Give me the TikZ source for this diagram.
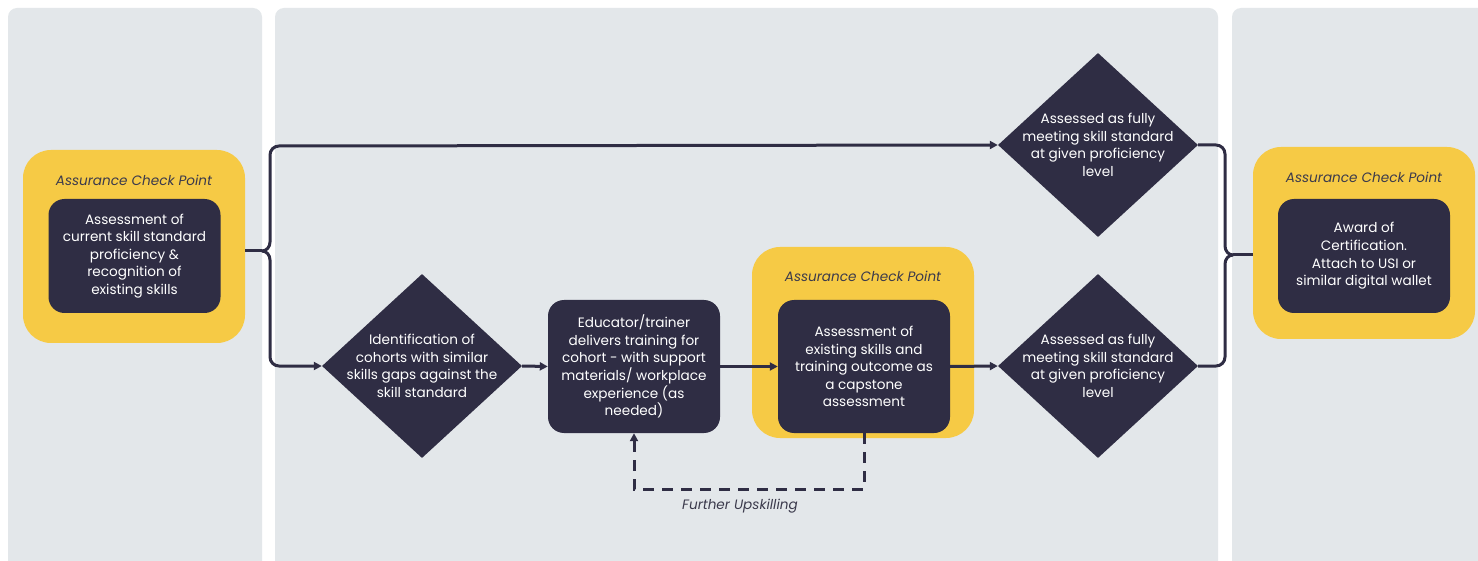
\documentclass[tikz,border=0pt]{standalone}
\usepackage{fontspec}
\setmainfont{Poppins}
\usetikzlibrary{shapes.geometric,arrows.meta}
\definecolor{panel}{HTML}{E3E7EA}
\definecolor{ylw}{HTML}{F6CA45}
\definecolor{dk}{HTML}{2F2D44}
\definecolor{ttlc}{HTML}{3B3A4C}
\begin{document}
\begin{tikzpicture}[x=1pt,y=-1pt,
 panelbox/.style={fill=panel, rounded corners=9pt},
 ybox/.style={fill=ylw, rounded corners=28pt, minimum width=222pt, inner sep=0pt},
 dbox/.style={fill=dk, rounded corners=16pt, minimum width=172pt, inner sep=0pt, text=white, align=center, font=\fontsize{13.6}{17.6}\selectfont},
 dmd/.style={diamond, fill=dk, minimum width=200pt, minimum height=184pt, inner sep=0pt},
 dtxt/.style={text=white, align=center, font=\fontsize{13.6}{17.6}\selectfont},
 ttl/.style={font=\itshape\fontsize{13.6}{15}\selectfont, text=ttlc},
 conn/.style={draw=dk, line width=3pt},
 arr/.style={conn, -{Triangle[length=8pt,width=8pt]}},
 dsh/.style={conn, dash pattern=on 11pt off 8pt, -{Triangle[length=8pt,width=8pt]}},
]
\useasboundingbox (0,0) rectangle (1478,561);
\clip (0,0) rectangle (1478,561);
\fill[white] (0,0) rectangle (1478,561);
% panels
\fill[panelbox] (8,8) rectangle (262,600);
\fill[panelbox] (275,8) rectangle (1218,600);
\fill[panelbox] (1232,8) rectangle (1520,600);

% left check point
\node[ybox, minimum height=193pt] (yl) at (134,246.5) {};
\node[ttl] (tl) at (134,180) {Assurance Check Point};
\node[dbox, minimum height=114pt] (al) at (134.5,256) {Assessment of\\current skill standard\\proficiency \&\\recognition of\\existing skills};

% middle
\node[dmd, label={[dtxt]center:{Identification of\\cohorts with similar\\skills gaps against the\\skill standard}}] (d1) at (422,366) {};
\node[dbox, minimum height=133pt] (tr) at (634,366.5) {Educator/trainer\\delivers training for\\cohort - with support\\materials/ workplace\\experience (as\\needed)};
\node[ybox, minimum height=191pt] (ym) at (863,342.5) {};
\node[ttl] (tm) at (863,276) {Assurance Check Point};
\node[dbox, minimum height=133pt] (cap) at (864,366.5) {Assessment of\\existing skills and\\training outcome as\\a capstone\\assessment};
\node[dmd, label={[dtxt]center:{Assessed as fully\\meeting skill standard\\at given proficiency\\level}}] (dt) at (1098,145) {};
\node[dmd, label={[dtxt]center:{Assessed as fully\\meeting skill standard\\at given proficiency\\level}}] (db) at (1098,366) {};

% right check point
\node[ybox, minimum height=192pt] (yr) at (1364,243) {};
\node[ttl] (tr2) at (1364,177) {Assurance Check Point};
\node[dbox, minimum height=114pt] (aw) at (1364,256) {Award of\\Certification.\\Attach to USI or\\similar digital wallet};

% left brace
\coordinate (lc) at (262,251);
\draw[conn] (yl.east |- lc) -- (lc);
\draw[arr] (lc) to[out=0,in=-90] (270,242) -- (270,155) to[out=90,in=180] (279,146) -- (dt.west);
\draw[arr] (lc) to[out=0,in=90] (270,260) -- (270,357) to[out=-90,in=180] (279,366) -- (d1.west);

% main flow
\draw[arr] (d1.east) -- (tr.west);
\draw[arr] (tr.east) -- (cap.west);
\draw[arr] (cap.east) -- (db.west);

% further upskilling loop
\coordinate (lp1) at (864,489);
\coordinate (lp2) at (634,489);
\draw[dsh] (cap.south) -- (lp1) -- (lp2) -- (tr.south);
\node[ttl] (fu) at (740,506) {Further Upskilling};

% right brace
\coordinate (rc) at (1233,255);
\draw[conn] (dt.east) -- (1216,145) to[out=0,in=90] (1225,154) -- (1225,246) to[out=-90,in=180] (rc);
\draw[conn] (db.east) -- (1216,366) to[out=0,in=-90] (1225,357) -- (1225,264) to[out=90,in=180] (rc);
\draw[conn] (rc) -- (yr.west |- rc);
\end{tikzpicture}
\end{document}
